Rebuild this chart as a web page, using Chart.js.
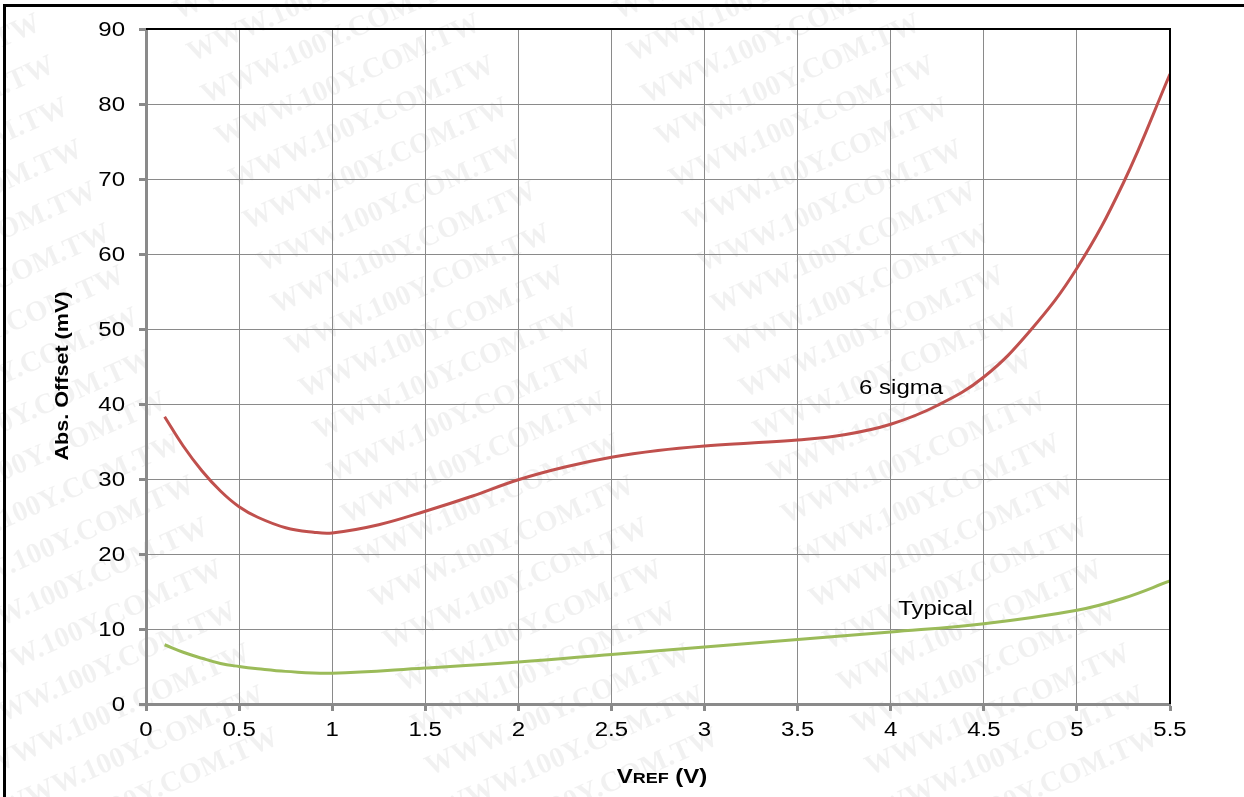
<!DOCTYPE html>
<html>
<head>
<meta charset="utf-8">
<script src="https://cdn.jsdelivr.net/npm/chart.js@4/dist/chart.umd.min.js"></script>
<style>
  body { margin: 0; background: #fff; }
  #wrap { width: 1244px; height: 797px; }
</style>
</head>
<body>
<div id="wrap"><canvas id="myChart" width="1244" height="797"></canvas></div>
<script>
// values
const vrefSigma = [0.1, 0.2, 0.3, 0.4, 0.5, 0.6, 0.75, 0.9, 1.0, 1.25, 1.5, 1.75, 2.0, 2.25, 2.5, 2.75, 3.0, 3.25, 3.5, 3.75, 4.0, 4.25, 4.5, 4.75, 5.0, 5.25, 5.5];
const sigma6 = [38.3, 34.4, 31.1, 28.4, 26.3, 24.9, 23.5, 22.9, 22.8, 23.9, 25.7, 27.7, 29.9, 31.6, 32.9, 33.8, 34.4, 34.8, 35.2, 35.9, 37.3, 39.8, 43.6, 49.8, 58.1, 69.5, 84.0];

const vrefTyp = [0.1, 0.2, 0.3, 0.4, 0.5, 0.6, 0.75, 1.0, 1.5, 2.0, 2.5, 3.0, 3.5, 4.0, 4.5, 5.0, 5.25, 5.5];
const typical = [7.9, 6.9, 6.1, 5.4, 5.0, 4.7, 4.35, 4.1, 4.8, 5.6, 6.6, 7.6, 8.6, 9.6, 10.7, 12.5, 14.1, 16.4];

const seriesLabels = ['6 sigma', 'Typical'];
// where the curve names sit, in data units
const labelPos = [[3.83, 41.3], [4.04, 11.9]];

const xTitle = ['V', 'REF', ' (V)'];
const yTitle = 'Abs. Offset (mV)';
const watermark = 'WWW.100Y.COM.TW';

function pts(xs, ys) {
  return xs.map((x, i) => ({ x: x, y: ys[i] }));
}

const FONT = '"Liberation Sans", Arial, sans-serif';
const STRETCH = 1.2; // the picture's text is a bit wide

function wideText(ctx, text, x, y) {
  ctx.save();
  ctx.translate(x, y);
  ctx.scale(STRETCH, 1);
  ctx.fillText(text, 0, 0);
  ctx.restore();
}

const decor = {
  id: 'decor',
  beforeDraw(chart) {
    const ctx = chart.ctx;
    ctx.save();
    ctx.fillStyle = '#fff';
    ctx.fillRect(0, 0, chart.width, chart.height);
    // watermark
    ctx.fillStyle = 'rgba(0,0,0,0.055)';
    ctx.font = 'bold 29px "Liberation Serif", "Times New Roman", serif';
    ctx.textBaseline = 'alphabetic';
    for (let i = -2; i < 20; i++) {
      for (let k = -1; k < 2; k++) {
        const x = 192 + 14 * i + 440 * k;
        const y = 62 + 42 * i;
        ctx.save();
        ctx.translate(x, y);
        ctx.rotate(-24 * Math.PI / 180);
        ctx.fillText(watermark, 0, 0);
        ctx.restore();
      }
    }
    ctx.restore();
  },
  afterDraw(chart) {
    const ctx = chart.ctx;
    const a = chart.chartArea;
    const xs = chart.scales.x, ys = chart.scales.y;
    ctx.save();
    // plot frame, top and right
    ctx.strokeStyle = '#000';
    ctx.lineWidth = 2;
    ctx.beginPath();
    ctx.moveTo(a.left, a.top);
    ctx.lineTo(a.right, a.top);
    ctx.lineTo(a.right, a.bottom);
    ctx.stroke();
    // outer frame
    ctx.lineWidth = 3;
    ctx.beginPath();
    ctx.moveTo(4.5, chart.height);
    ctx.lineTo(4.5, 5.5);
    ctx.lineTo(chart.width, 5.5);
    ctx.stroke();

    ctx.fillStyle = '#000';
    // tick labels
    ctx.font = '20px ' + FONT;
    ctx.textBaseline = 'alphabetic';
    ctx.textAlign = 'center';
    xs.ticks.forEach(t => {
      wideText(ctx, String(t.value), xs.getPixelForValue(t.value), 736);
    });
    ctx.textAlign = 'right';
    ys.ticks.forEach(t => {
      wideText(ctx, String(t.value), 125, ys.getPixelForValue(t.value) + 7);
    });

    // curve names
    ctx.textAlign = 'left';
    seriesLabels.forEach((t, i) => {
      wideText(ctx, t, xs.getPixelForValue(labelPos[i][0]), ys.getPixelForValue(labelPos[i][1]));
    });

    // x title with small caps
    const big = 'bold 20px ' + FONT, small = 'bold 15px ' + FONT;
    ctx.font = big; const w0 = ctx.measureText(xTitle[0]).width * STRETCH;
    ctx.font = small; const w1 = ctx.measureText(xTitle[1]).width * STRETCH;
    ctx.font = big; const w2 = ctx.measureText(xTitle[2]).width * STRETCH;
    let x = (a.left + a.right) / 2 + 4 - (w0 + w1 + w2) / 2;
    const by = 783;
    ctx.font = big; wideText(ctx, xTitle[0], x, by); x += w0;
    ctx.font = small; wideText(ctx, xTitle[1], x, by); x += w1;
    ctx.font = big; wideText(ctx, xTitle[2], x, by);

    // y title, widened along its own direction
    ctx.translate(68, 376);
    ctx.rotate(-Math.PI / 2);
    ctx.scale(STRETCH, 1);
    ctx.font = 'bold 18px ' + FONT;
    ctx.textAlign = 'center';
    ctx.fillText(yTitle, 0, 0);
    ctx.restore();
  }
};

const gridStyle = {
  color: '#8a8a8a',
  lineWidth: 1,
  tickLength: 7,
  tickWidth: 3,
  tickColor: '#8a8a8a'
};

var canvas = document.getElementById('myChart');
var myChart = new Chart(canvas, {
  type: 'line',
  data: {
    datasets: [{
      label: seriesLabels[0],
      data: pts(vrefSigma, sigma6),
      borderColor: '#c0504d',
      borderWidth: 3,
      pointRadius: 0,
      tension: 0.4,
      fill: false
    }, {
      label: seriesLabels[1],
      data: pts(vrefTyp, typical),
      borderColor: '#9bbb59',
      borderWidth: 3,
      pointRadius: 0,
      tension: 0.4,
      fill: false
    }]
  },
  options: {
    responsive: false,
    animation: false,
    layout: { padding: { left: 0, top: 29, right: 74, bottom: 0 } },
    plugins: { legend: { display: false }, tooltip: { enabled: false } },
    scales: {
      x: {
        type: 'linear',
        min: 0, max: 5.5,
        grid: gridStyle,
        border: { color: '#8a8a8a', width: 3 },
        // labels are drawn wide by the decor plugin
        ticks: { stepSize: 0.5, color: 'rgba(0,0,0,0)', font: { family: FONT, size: 17 }, maxRotation: 0 },
        afterFit(scale) { scale.height = 93; }
      },
      y: {
        min: 0, max: 90,
        grid: gridStyle,
        border: { color: '#8a8a8a', width: 3 },
        ticks: { stepSize: 10, color: 'rgba(0,0,0,0)', font: { family: FONT, size: 17 } },
        afterFit(scale) { scale.width = 146; }
      }
    }
  },
  plugins: [decor]
});
</script>
</body>
</html>
